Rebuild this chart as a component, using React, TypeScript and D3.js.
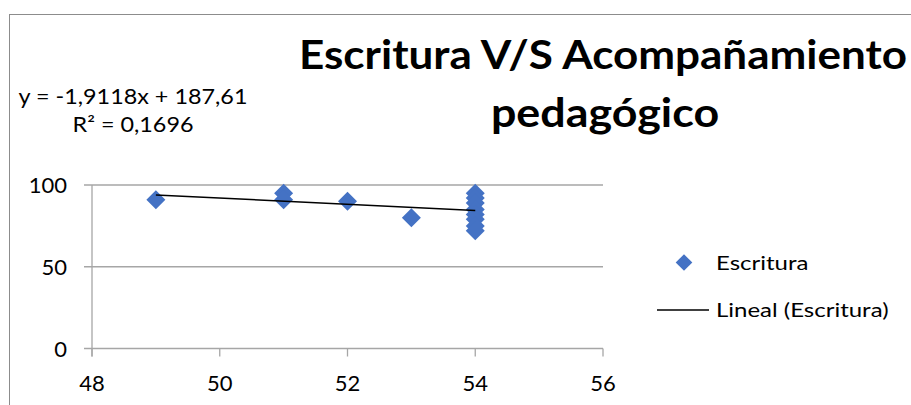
import React from "react";
import * as d3 from "d3";

const xValues = [49, 51, 51, 52, 53, 54, 54, 54, 54, 54, 54, 54, 54];
const yValues = [91, 95, 91, 90, 80, 95, 92, 89, 85, 82, 79, 75, 72];
const xTicks = [48, 50, 52, 54, 56];
const yTicks = [0, 50, 100];
const trendSlope = -1.9118;
const trendIntercept = 187.61;
const trendRange = [49, 54];
const titleLines = ["Escritura V/S Acompañamiento", "pedagógico"];
const equationText = "y = -1,9118x + 187,61";
const r2Value = "0,1696";
const seriesName = "Escritura";
const trendName = "Lineal (Escritura)";

const W = 911;
const H = 405;
const FONT = "Lato, Carlito, Calibri, sans-serif";

function T(props: {
  x: number;
  y: number;
  sx: number;
  size: number;
  anchor?: string;
  bold?: boolean;
  children: React.ReactNode;
}) {
  return (
    <g transform={`translate(${props.x},${props.y}) scale(${props.sx},1)`}>
      <text
        x={0}
        y={0}
        textAnchor={props.anchor || "start"}
        fontFamily={FONT}
        fontWeight={props.bold ? "bold" : "normal"}
        fontSize={props.size}
        fill="#000"
      >
        {props.children}
      </text>
    </g>
  );
}

export default function App() {
  const x = d3.scaleLinear().domain([48, 56]).range([92, 603]);
  const y = d3.scaleLinear().domain([0, 100]).range([348.5, 185]);
  const grid = "#a6a6a6";
  const diamond = (cx: number, cy: number, r: number) =>
    `M${cx},${cy - r}L${cx + r},${cy}L${cx},${cy + r}L${cx - r},${cy}Z`;
  const line = d3
    .line<number>()
    .x((d) => x(d))
    .y((d) => y(trendSlope * d + trendIntercept));

  return (
    <svg
      width={W}
      height={H}
      style={{ position: "absolute", left: 0, top: 0, background: "#fff" }}
    >
      <rect x={9.5} y={14.5} width={W} height={H} fill="#fff" stroke="#8c8c8c" strokeWidth={1} />
      {yTicks.map((t) => (
        <g key={"y" + t}>
          <line x1={84} x2={x(56)} y1={y(t)} y2={y(t)} stroke={grid} strokeWidth={1.3} />
          <T x={67} y={y(t) + 8} sx={1} size={22} anchor="end">
            {t}
          </T>
        </g>
      ))}
      <line x1={x(48)} x2={x(48)} y1={y(100)} y2={y(0) + 8} stroke={grid} strokeWidth={1.3} />
      {xTicks.map((t) => (
        <g key={"x" + t}>
          <line x1={x(t)} x2={x(t)} y1={y(0)} y2={y(0) + 8} stroke={grid} strokeWidth={1.3} />
          <T x={x(t)} y={391} sx={1} size={22} anchor="middle">
            {t}
          </T>
        </g>
      ))}
      {xValues.map((xv, i) => (
        <path key={"p" + i} d={diamond(x(xv), y(yValues[i]), 9.5)} fill="#4472C4" />
      ))}
      <path d={line(trendRange) || ""} stroke="#000" strokeWidth={1.5} fill="none" />
      <T x={603} y={69} sx={1.1} size={40} anchor="middle" bold>
        {titleLines[0]}
      </T>
      <T x={605} y={127} sx={1.12} size={40} anchor="middle" bold>
        {titleLines[1]}
      </T>
      <T x={133} y={104} sx={1.14} size={20.5} anchor="middle">
        {equationText}
      </T>
      <T x={133} y={131.5} sx={1.14} size={20.5} anchor="middle">
        R² = {r2Value}
      </T>
      <path d={diamond(684, 262.5, 8.3)} fill="#4472C4" />
      <T x={716} y={269.5} sx={1.23} size={19.5}>
        {seriesName}
      </T>
      <line x1={657} x2={709} y1={310} y2={310} stroke="#000" strokeWidth={1.3} />
      <T x={716} y={317} sx={1.23} size={19.5}>
        {trendName}
      </T>
    </svg>
  );
}
